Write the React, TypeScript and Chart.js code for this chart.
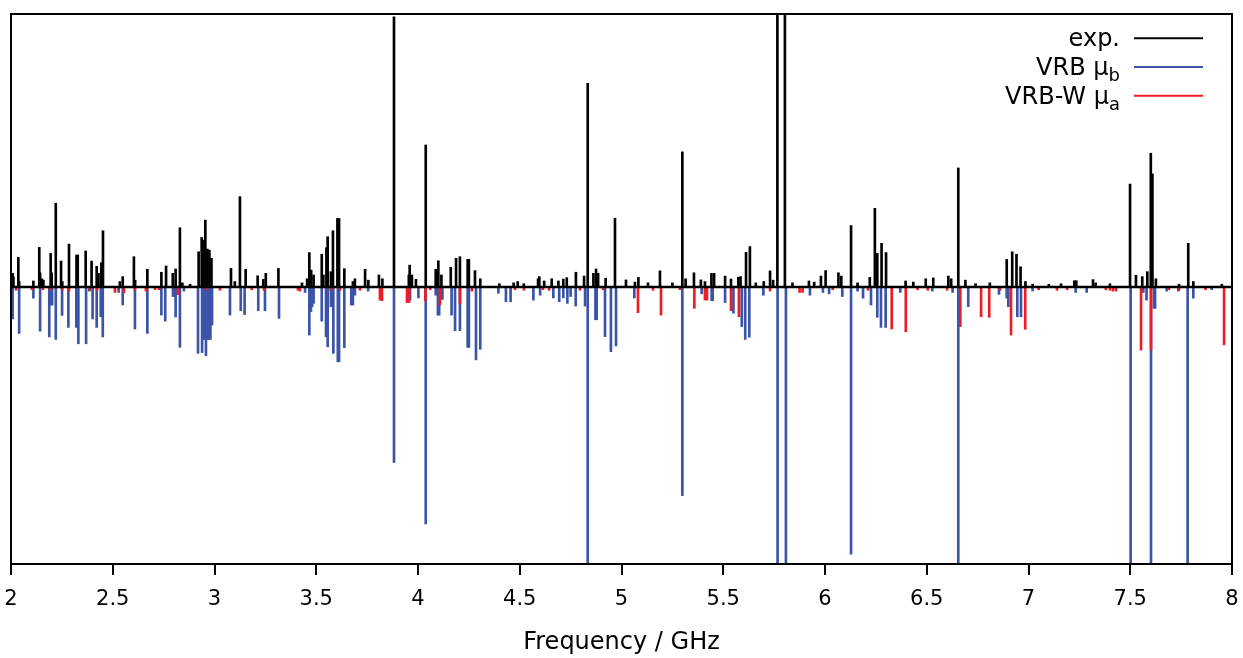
import React, { useEffect, useRef } from 'react';
import { Chart, registerables } from 'chart.js';

Chart.register(...registerables);

// Experimental spectrum (stick positions in GHz, relative intensity)
const expFreq = [
  2.008, 2.012, 2.036, 2.04, 2.11, 2.139, 2.143, 2.152, 2.159, 2.195, 2.2, 2.22, 2.246, 2.252, 2.285,
  2.322, 2.328, 2.367, 2.396, 2.421, 2.43, 2.444, 2.452, 2.535, 2.549, 2.604, 2.61, 2.67, 2.739, 2.762,
  2.795, 2.809, 2.83, 2.842, 2.88, 2.922, 2.937, 2.945, 2.955, 2.965, 2.975, 2.985, 3.081, 3.1, 3.125,
  3.153, 3.212, 3.24, 3.252, 3.314, 3.43, 3.455, 3.466, 3.475, 3.487, 3.527, 3.535, 3.55, 3.556, 3.572,
  3.582, 3.604, 3.612, 3.638, 3.68, 3.69, 3.74, 3.756, 3.808, 3.825, 3.882, 3.955, 3.959, 3.97, 3.99,
  4.038, 4.087, 4.1, 4.115, 4.161, 4.187, 4.206, 4.244, 4.25, 4.28, 4.306, 4.4, 4.47, 4.49, 4.52,
  4.59, 4.596, 4.62, 4.657, 4.69, 4.714, 4.731, 4.776, 4.816, 4.834, 4.862, 4.875, 4.885, 4.922, 4.968,
  5.022, 5.066, 5.083, 5.13, 5.189, 5.25, 5.299, 5.315, 5.356, 5.39, 5.41, 5.442, 5.455, 5.509, 5.538,
  5.574, 5.585, 5.612, 5.631, 5.66, 5.699, 5.73, 5.745, 5.766, 5.803, 5.84, 5.921, 5.947, 5.98, 6.003,
  6.066, 6.08, 6.128, 6.16, 6.22, 6.245, 6.257, 6.278, 6.3, 6.396, 6.434, 6.495, 6.532, 6.606, 6.62,
  6.655, 6.69, 6.74, 6.81, 6.893, 6.92, 6.941, 6.961, 6.985, 7.02, 7.1, 7.16, 7.225, 7.235, 7.317,
  7.33, 7.4, 7.499, 7.528, 7.559, 7.584, 7.601, 7.609, 7.626, 7.74, 7.785, 7.81, 7.95,
];
const expInt = [
  0.05, 0.037, 0.109, 0.02, 0.022, 0.145, 0.052, 0.03, 0.025, 0.123, 0.052, 0.307, 0.095, 0.02, 0.157,
  0.117, 0.117, 0.132, 0.095, 0.076, 0.05, 0.089, 0.206, 0.02, 0.038, 0.111, 0.025, 0.065, 0.054, 0.077,
  0.05, 0.066, 0.217, 0.015, 0.01, 0.129, 0.181, 0.172, 0.245, 0.139, 0.135, 0.105, 0.068, 0.02, 0.331,
  0.065, 0.041, 0.028, 0.05, 0.068, 0.015, 0.03, 0.126, 0.062, 0.044, 0.12, 0.044, 0.144, 0.184, 0.056,
  0.206, 0.251, 0.251, 0.067, 0.02, 0.03, 0.065, 0.025, 0.044, 0.03, 0.99, 0.044, 0.08, 0.044, 0.028,
  0.52, 0.065, 0.096, 0.044, 0.072, 0.105, 0.111, 0.101, 0.101, 0.06, 0.03, 0.012, 0.015, 0.02, 0.012,
  0.03, 0.038, 0.022, 0.03, 0.022, 0.029, 0.034, 0.054, 0.04, 0.746, 0.05, 0.066, 0.05, 0.032, 0.252,
  0.026, 0.018, 0.035, 0.015, 0.059, 0.015, 0.495, 0.03, 0.052, 0.026, 0.02, 0.05, 0.05, 0.04, 0.029,
  0.036, 0.038, 0.127, 0.148, 0.015, 0.02, 0.059, 0.025, 1.2, 1.2, 0.015, 0.022, 0.018, 0.04, 0.06,
  0.052, 0.04, 0.225, 0.015, 0.035, 0.288, 0.123, 0.16, 0.126, 0.022, 0.018, 0.03, 0.033, 0.04, 0.03,
  0.436, 0.025, 0.012, 0.015, 0.101, 0.129, 0.12, 0.074, 0.02, 0.01, 0.01, 0.012, 0.023, 0.023, 0.027,
  0.015, 0.012, 0.377, 0.043, 0.038, 0.056, 0.49, 0.414, 0.03, 0.01, 0.16, 0.02, 0.01,
];

// VRB mu_b simulation (drawn downwards)
const vrbFreq = [
  2.008, 2.04, 2.11, 2.143, 2.188, 2.198, 2.202, 2.22, 2.251, 2.282, 2.321, 2.331, 2.369, 2.385, 2.401,
  2.421, 2.441, 2.451, 2.529, 2.549, 2.609, 2.67, 2.739, 2.758, 2.796, 2.804, 2.809, 2.83, 2.85, 2.919,
  2.939, 2.945, 2.95, 2.958, 2.962, 2.968, 2.975, 2.98, 2.988, 3.076, 3.129, 3.148, 3.215, 3.248, 3.317,
  3.445, 3.466, 3.474, 3.48, 3.487, 3.527, 3.548, 3.556, 3.572, 3.584, 3.606, 3.612, 3.638, 3.672, 3.68,
  3.69, 3.755, 3.882, 3.961, 4.002, 4.038, 4.087, 4.098, 4.104, 4.115, 4.12, 4.165, 4.182, 4.206, 4.244,
  4.25, 4.285, 4.306, 4.395, 4.432, 4.455, 4.567, 4.6, 4.665, 4.694, 4.714, 4.734, 4.75, 4.775, 4.821,
  4.834, 4.872, 4.878, 4.919, 4.948, 4.973, 5.063, 5.299, 5.394, 5.443, 5.448, 5.509, 5.55, 5.591, 5.608,
  5.628, 5.697, 5.767, 5.808, 5.926, 5.99, 6.02, 6.085, 6.128, 6.16, 6.187, 6.226, 6.257, 6.275, 6.298,
  6.37, 6.527, 6.627, 6.655, 6.704, 6.855, 6.893, 6.901, 6.945, 6.963, 7.02, 7.232, 7.286, 7.502, 7.564,
  7.58, 7.602, 7.617, 7.622, 7.679, 7.736, 7.782, 7.81, 7.9,
];
const vrbInt = [
  -0.117, -0.17, -0.041, -0.162, -0.183, -0.066, -0.066, -0.192, -0.104, -0.148, -0.148, -0.208, -0.208, -0.015, -0.117,
  -0.148, -0.109, -0.183, -0.02, -0.066, -0.154, -0.17, -0.103, -0.125, -0.035, -0.035, -0.11, -0.221, -0.015, -0.243,
  -0.24, -0.192, -0.192, -0.252, -0.192, -0.192, -0.192, -0.192, -0.139, -0.103, -0.087, -0.101, -0.087, -0.087, -0.115,
  -0.02, -0.176, -0.09, -0.072, -0.06, -0.125, -0.182, -0.219, -0.072, -0.243, -0.274, -0.274, -0.222, -0.066, -0.066,
  -0.03, -0.015, -0.643, -0.048, -0.04, -0.868, -0.03, -0.103, -0.103, -0.045, -0.045, -0.103, -0.16, -0.16, -0.221,
  -0.221, -0.267, -0.228, -0.023, -0.054, -0.054, -0.048, -0.03, -0.04, -0.054, -0.04, -0.06, -0.035, -0.07, -0.07,
  -1.05, -0.12, -0.12, -0.182, -0.237, -0.216, -0.04, -0.764, -0.025, -0.05, -0.05, -0.057, -0.096, -0.145, -0.192,
  -0.184, -0.03, -1.05, -1.05, -0.03, -0.02, -0.025, -0.035, -0.979, -0.015, -0.041, -0.066, -0.111, -0.148, -0.148,
  -0.02, -0.015, -0.02, -1.05, -0.072, -0.027, -0.041, -0.072, -0.109, -0.109, -0.015, -0.02, -0.02, -1.05, -0.02,
  -0.048, -1.05, -0.078, -0.078, -0.015, -0.015, -1.05, -0.041, -0.01,
];

// VRB-W mu_a simulation (drawn downwards)
const vrbwFreq = [
  2.025, 2.103, 2.157, 2.192, 2.251, 2.285, 2.388, 2.423, 2.511, 2.555, 2.609, 2.663, 2.708, 2.727, 2.821,
  2.963, 3.027, 3.183, 3.243, 3.41, 3.42, 3.572, 3.617, 3.715, 3.813, 3.823, 3.946, 3.956, 4.036, 4.06,
  4.108, 4.206, 4.265, 4.477, 4.521, 4.614, 4.644, 4.796, 4.909, 5.081, 5.155, 5.194, 5.287, 5.358, 5.41,
  5.42, 5.538, 5.577, 5.73, 5.875, 5.89, 6.038, 6.211, 6.328, 6.397, 6.455, 6.505, 6.6, 6.665, 6.767,
  6.807, 6.86, 6.914, 6.984, 7.05, 7.14, 7.19, 7.38, 7.4, 7.415, 7.43, 7.553, 7.602, 7.69, 7.74,
  7.87, 7.961,
];
const vrbwInt = [
  -0.012, -0.01, -0.01, -0.012, -0.01, -0.015, -0.012, -0.012, -0.02, -0.021, -0.012, -0.015, -0.01, -0.01, -0.028,
  -0.01, -0.012, -0.01, -0.012, -0.012, -0.015, -0.012, -0.012, -0.012, -0.048, -0.05, -0.057, -0.057, -0.05, -0.01,
  -0.066, -0.06, -0.015, -0.01, -0.012, -0.01, -0.012, -0.012, -0.01, -0.094, -0.012, -0.103, -0.01, -0.078, -0.048,
  -0.048, -0.087, -0.109, -0.015, -0.02, -0.02, -0.01, -0.012, -0.154, -0.164, -0.01, -0.012, -0.012, -0.145, -0.109,
  -0.111, -0.012, -0.176, -0.155, -0.01, -0.012, -0.01, -0.01, -0.012, -0.015, -0.015, -0.231, -0.231, -0.01, -0.012,
  -0.01, -0.212,
];

const xTickValues = [2, 2.5, 3, 3.5, 4, 4.5, 5, 5.5, 6, 6.5, 7, 7.5, 8];
const xTickLabels = ['2', '2.5', '3', '3.5', '4', '4.5', '5', '5.5', '6', '6.5', '7', '7.5', '8'];

const legendLabels = ['exp.', 'VRB μ', 'VRB-W μ'];
const legendSubs = ['', 'b', 'a'];

const BLACK = '#000000';
const BLUE = '#3B54A6';
const RED = '#EE1D25';
const legendColors = [BLACK, BLUE, RED];

const FONT = "'DejaVu Sans', sans-serif";

const toPoints = (f: number[], v: number[]) => f.map((x, i) => ({ x, y: v[i] }));

const framePlugin = {
  id: 'frameAndLegend',
  afterDatasetsDraw(chart: any) {
    const { ctx, chartArea } = chart;
    const { left, right, top, bottom } = chartArea;
    const y0 = chart.scales.y.getPixelForValue(0);
    ctx.save();
    ctx.beginPath();
    ctx.rect(left, top, right - left, bottom - top);
    ctx.clip();
    ctx.strokeStyle = BLACK;
    ctx.lineWidth = 2.5;
    ctx.beginPath();
    ctx.moveTo(left, y0);
    ctx.lineTo(right, y0);
    ctx.stroke();
    ctx.restore();

    ctx.save();
    ctx.strokeStyle = BLACK;
    ctx.lineWidth = 2;
    ctx.strokeRect(left, top, right - left, bottom - top);
    ctx.restore();
  },
  afterDraw(chart: any) {
    const { ctx, chartArea } = chart;
    const textRight = chartArea.right - 112;
    const lineX0 = chartArea.right - 98;
    const lineX1 = chartArea.right - 29;
    ctx.save();
    legendLabels.forEach((label, i) => {
      const ly = chartArea.top + 24.3 + i * 28.7;
      const baseY = ly + 8;
      const sub = legendSubs[i];
      ctx.fillStyle = BLACK;
      ctx.textBaseline = 'alphabetic';
      ctx.textAlign = 'left';
      ctx.font = `24px ${FONT}`;
      const mainW = ctx.measureText(label).width;
      ctx.font = `18px ${FONT}`;
      const subW = sub ? ctx.measureText(sub).width : 0;
      const x0 = textRight - mainW - subW;
      ctx.font = `24px ${FONT}`;
      ctx.fillText(label, x0, baseY);
      if (sub) {
        ctx.font = `18px ${FONT}`;
        ctx.fillText(sub, x0 + mainW, baseY + 6);
      }
      ctx.strokeStyle = legendColors[i];
      ctx.lineWidth = 2;
      ctx.beginPath();
      ctx.moveTo(lineX0, ly);
      ctx.lineTo(lineX1, ly);
      ctx.stroke();
    });
    ctx.restore();
  },
};

export default function App() {
  const canvasRef = useRef<HTMLCanvasElement | null>(null);

  useEffect(() => {
    document.body.style.margin = '0';
    const canvas = canvasRef.current;
    if (!canvas) return;
    const chart = new Chart(canvas, {
      type: 'bar',
      data: {
        datasets: [
          {
            label: 'exp.',
            data: toPoints(expFreq, expInt),
            backgroundColor: BLACK,
            barThickness: 2,
            grouped: false,
            order: 0,
          } as any,
          {
            label: 'VRB μb',
            data: toPoints(vrbFreq, vrbInt),
            backgroundColor: BLUE,
            barThickness: 2,
            grouped: false,
            order: 2,
          } as any,
          {
            label: 'VRB-W μa',
            data: toPoints(vrbwFreq, vrbwInt),
            backgroundColor: RED,
            barThickness: 2,
            grouped: false,
            order: 1,
          } as any,
        ],
      },
      options: {
        animation: false,
        responsive: false,
        maintainAspectRatio: false,
        layout: { padding: { left: 11, right: 11, top: 14, bottom: 0 } },
        plugins: {
          legend: { display: false },
          tooltip: { enabled: false },
          title: { display: false },
        },
        scales: {
          x: {
            type: 'linear',
            min: 2,
            max: 8,
            offset: false,
            afterBuildTicks: (scale: any) => {
              scale.ticks = xTickValues.map((v) => ({ value: v }));
            },
            afterFit: (scale: any) => {
              scale.height = 94;
              scale.paddingLeft = 0;
              scale.paddingRight = 0;
            },
            ticks: {
              autoSkip: false,
              maxRotation: 0,
              color: BLACK,
              padding: 12,
              font: { family: FONT, size: 21 },
              callback: (value: number) => {
                const idx = xTickValues.indexOf(Number(value));
                return idx >= 0 ? xTickLabels[idx] : '';
              },
            },
            grid: {
              drawOnChartArea: false,
              drawTicks: true,
              tickLength: 11,
              color: BLACK,
              lineWidth: 2,
              offset: false,
            },
            border: { display: true, color: BLACK, width: 2 },
            title: {
              display: true,
              text: 'Frequency / GHz',
              color: BLACK,
              font: { family: FONT, size: 24 },
              padding: { top: 0, bottom: 1 },
            },
          },
          y: {
            display: false,
            min: -1.0147,
            max: 1.0,
          },
        },
      } as any,
      plugins: [framePlugin],
    });
    return () => chart.destroy();
  }, []);

  return (
    <div style={{ width: 1243, height: 658 }}>
      <canvas ref={canvasRef} width={1243} height={658} style={{ display: 'block' }} />
    </div>
  );
}
